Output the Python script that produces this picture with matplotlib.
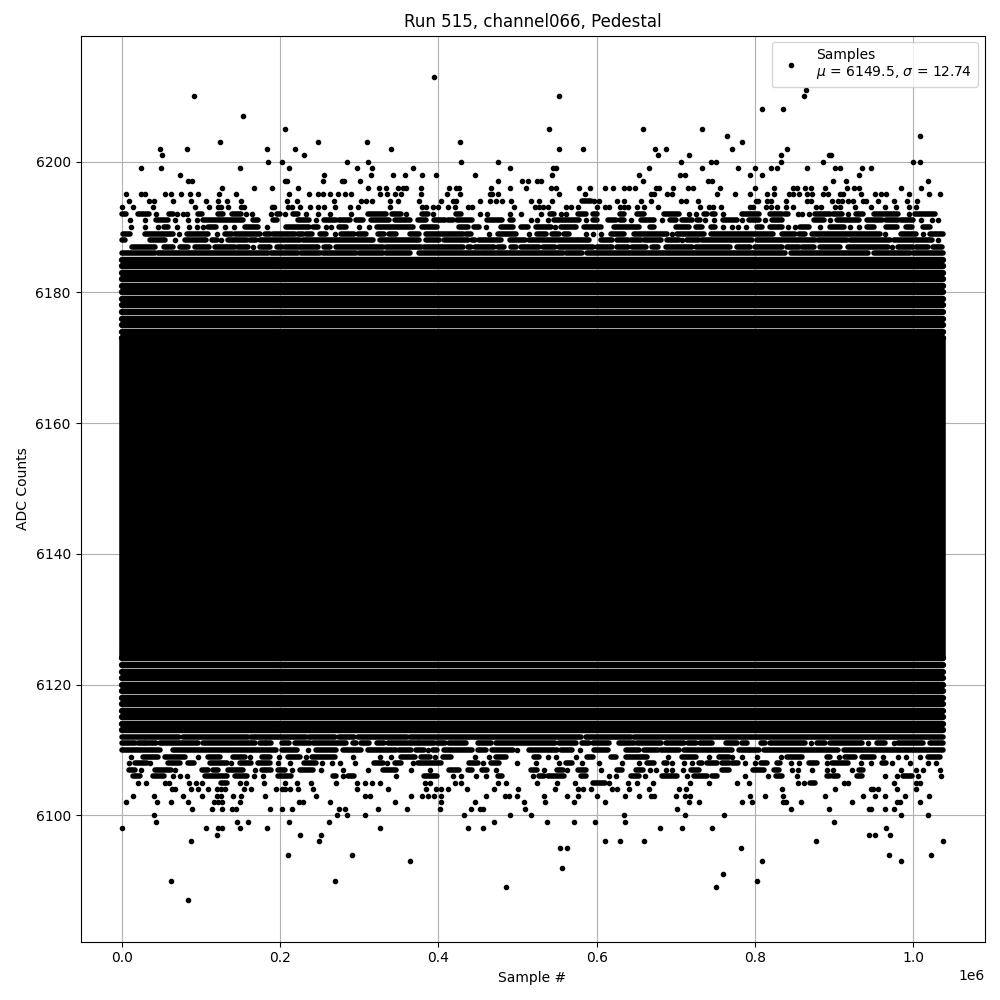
import numpy as np
import matplotlib
matplotlib.use('Agg')
import matplotlib.pyplot as plt

# Samples are in thousands. A number is one dot, a tuple is a run of samples
# on that ADC level that merge into one bar at this resolution.
lvl_6213 = [394]
lvl_6211 = [864]
lvl_6210 = [92, 553, 862]
lvl_6208 = [809, 835]
lvl_6207 = [153.5]
lvl_6205 = [206, 540, 658, 733]
lvl_6204 = [765, 1008]
lvl_6203 = [124.5, 248, 310, 428, 784]
lvl_6202 = [49, 82, 184, 219, 340, 552, 583, 674, 687, 771, 840]
lvl_6201 = [51, 230, 677, 717, 833, 893, 896]
lvl_6200 = [185, 203, 285, 311, 429, 476, 707, 745, 751, 833, 886, 1000, 1009]
lvl_6199 = [25, 50, 150, 211, 297, 316, 368, 491, 545, 549, 666, 733, 779, 800, 820, 828, 866, 901, 907, 935, 946]
lvl_6198 = [74, 256, 315, 342.5, 358, 379, 397, 446, 544, 654, 705, 712, 794, 809, 932]
lvl_6197 = [84, 89, 206, 209, 254, 278, 281, 301, 476, 506, 513, 525, 530, 658, 741, 746, 898, 915, 1018]
lvl_6196 = [127, 167, 190, 223, 311, 325, 334, 349, 355, 359, 378, 413, 423, 426, 467, 491, 511,
            542, 549, 578, 591, 610, 621, 635, 641, 649, 675, 679, 697, 716, 722, 756, 800, 824,
            848, 853, 863, 871, 888, 916, 925, 931, 984, 1010]
lvl_6195 = [6, 25, 30, 55, 62, 75, 87, 96, 123, 145, 211, 237, 248, 254, 263, 273, 282, 290, 327, 335,
            345, 353, 378, 411, 428, 465, 468, 476, 552, 585, 669, 673, 689, 695, 752, 775, 794, 815,
            824, 843, 848, 855, 866, 872, 886, 892, 907, 911, 934, 951, 959, 966, 994, 1020, 1034]
lvl_6194 = [9, 35, 41, 65, 88, 107, 122, 133, 151, 209, 222, 268, 302, 309, 316, 339, 349, 376, 403,
            418, 423, 453, 465, 473, 481, 492, 517, 527, 544, (582, 593), 597, 603, 626, 635, 656,
            669, 707, 713, 728, 801, 804, 815, 820, 839, 866, 871, 897, 905, 910, 917, 924, 936,
            940, 956, 975, 992, 1005]
lvl_6193 = [1, 14, 40, 93, 111, 122, 125, 135, 151, 154, 190, 193, 210, 215, 225, 238, 248, 256, 269,
            288, 298, 339, 379, 385, 393, 400, 412, 421, 438, 442, 496, 522, 527, 532, 538, 561, 567,
            576, 601, 610, 615, 629, 635, 640, 651, 660, 678, 731, 742, 747, 757, 794, 798, 814, 820,
            828, 839, 848, 877, 883, 901, 908, 926, 946, 964, 978, 994, 1003]
lvl_6192 = [(0, 5), (21, 34), 44, (60, 65), 70, 77, 83, (96, 101), (122, 128), (140, 151), 157, 165, 189,
            (196, 200), 207, (217, 223), 233, 248, 263, 290, (311, 334), (342, 353), 359, (380, 387), 393,
            (423, 429), 453, 461, 490, 504, 530, (541, 546), 555, 561, (577, 586), (595, 601), (630, 635),
            (651, 660), (685, 704), 717, 725, (735, 740), (746, 750), 760, (784, 805), (819, 834), (838, 842),
            854, 860, 868, (876, 895), (899, 910), 917, (928, 937), (950, 981), 994, (1002, 1027)]
lvl_6191 = [11, 30, (44, 59), 68, 84, 95, (103, 153), (166, 172), (191, 196), (223, 237), 246, (256, 271),
            (275, 288), (296, 305), (315, 338), (345, 364), (374, 385), (395, 408), (412, 418), (424, 443),
            (462, 481), (490, 494), 517, 525, 538, (546, 578), 586, (595, 601), (614, 624), (630, 635), 643,
            (656, 672), 683, (693, 700), (708, 721), (727, 731), 737, 748, (760, 777), 784, (792, 805), 813,
            (821, 834), (874, 887), 895, (903, 931), (941, 960), (966, 981), (985, 1000), 1010, 1023, 1031]
lvl_6190 = [12, 30, 46, (53, 59), 70, 85, 95, 103, (109, 119), 130, 142, (156, 172), 184, (208, 237),
            (242, 248), 258, 265, (275, 284), 300, 312, (322, 368), (380, 399), (426, 437), (445, 452), 460,
            (479, 494), (504, 513), (523, 542), 548, (555, 574), (584, 605), (622, 653), (668, 672), (700, 717),
            (725, 733), (744, 750), 760, 771, 779, 789, (803, 809), (819, 834), 842, 851, (857, 868), 882,
            (895, 912), 920, 931, (941, 950), (966, 979), (991, 998), (1012, 1021)]
lvl_6189 = [(2, 11), (30, 65), 72, (82, 109), 120, (130, 139), (143, 175), (181, 187), (191, 219), (223, 229),
            (233, 240), (250, 258), 269, (277, 294), (298, 309), (324, 332), (338, 347), (364, 376), (385, 431),
            (435, 441), 464, (475, 498), 515, (525, 536), (544, 553), (559, 565), 587, 595, 605, (618, 635),
            (647, 689), 695, (702, 735), (744, 823), (834, 851), (855, 863), (872, 958), 964, (985, 1004), 1012,
            (1021, 1038)]
lvl_6188 = [(0, 4), (36, 55), 67, (80, 107), (114, 120), 126, (135, 158), (162, 170), (175, 225), (229, 317),
            (326, 376), (385, 401), (407, 437), (443, 447), (452, 479), (490, 510), (515, 590), (605, 620),
            (626, 639), (643, 656), (660, 681), (689, 704), 708, (714, 729), (733, 796), (803, 876), (880, 916),
            (920, 971), (975, 1023), 1031]
lvl_6187 = [(13, 42), (53, 65), (74, 84), (93, 111), (118, 143), (147, 160), 166, (175, 187), (196, 202),
            (206, 248), (256, 263), (271, 330), (334, 378), (382, 431), (437, 441), (447, 471), (475, 483),
            (492, 498), (504, 515), (517, 527), (532, 548), (553, 595), (601, 620), (626, 639), (645, 662),
            (670, 677), (687, 721), (725, 769), (777, 794), (800, 834), (840, 855), (859, 874), (882, 907),
            (918, 968), 973, (981, 1000), (1004, 1019), (1025, 1036)]
lvl_6186 = [(0, 42), (46, 185), (189, 223), (227, 250), (254, 296), (300, 330), (334, 364), (376, 452),
            (454, 557), (561, 582), (588, 838), (845, 943), (950, 996), (1000, 1038)]

lvl_6112 = [(0, 72), (77, 160), (164, 233), (237, 269), (275, 294), (298, 361), (364, 580), (586, 643),
            (647, 1038)]
lvl_6111 = [(0, 17), (21, 28), (30, 44), (49, 97), (103, 145), (147, 168), (175, 181), (183, 189), (202, 212),
            (219, 238), (242, 284), (292, 296), (303, 313), (322, 332), (336, 374), (376, 395), (399, 408),
            (414, 435), (450, 466), (473, 548), (553, 574), (582, 590), (595, 616), (628, 647), (651, 681),
            (687, 710), (716, 725), (731, 746), (763, 777), (784, 790), (807, 813), (819, 863), 871, (878, 889),
            (895, 935), 943, (954, 964), 975, (981, 1012), (1021, 1038)]
lvl_6110 = [(0, 48), (65, 195), (202, 221), 235, (246, 271), (280, 303), (311, 347), (351, 366), (372, 382), 387,
            (393, 399), (407, 443), (450, 460), (468, 494), 500, (515, 550), (555, 569), 579, (597, 614),
            (637, 653), (660, 677), (681, 704), (710, 771), (780, 792), (794, 805), (811, 905), (912, 1038)]
lvl_6109 = [12, (27, 46), (55, 80), 96, (109, 124), (141, 156), 162, (177, 187), 199, (210, 225), 233, (240, 269),
            292, 327, 340, (353, 370), (378, 389), 396, (406, 416), 447, 464, (473, 485), (521, 527), 539, 549, 574,
            (588, 595), (618, 624), (637, 664), 690, (708, 725), 742, (754, 767), 771, 784, 803, 833, (840, 859),
            (891, 895), 906, (914, 926), (935, 950), 962, 981, 991, 1008, (1019, 1034)]
lvl_6108 = [9, (17, 32), 36, (59, 74), (84, 91), (112, 133), 138, (149, 164), (172, 187), 198, 213, (231, 246), 253,
            266, 276, 295, (319, 330), 335, (345, 353), 368, (374, 403), (439, 450), 457, (466, 477), 500, 524, 553,
            (561, 569), 582, 603, 632, 653, (664, 672), (685, 689), 695, 710, 721, (729, 733), (740, 752), (758, 767),
            (771, 779), 788, 800, (807, 815), (828, 832), 845, 855, (868, 878), 891, (897, 918), 934, 947, (960, 966),
            973, 996, 1019, 1029]
lvl_6107 = [(9, 17), 25, (42, 63), 67, (101, 109), (116, 122), (135, 153), 169, (177, 189), (198, 206), 215, (225, 242),
            252, 280, 311, (330, 347), 366, 389, (413, 426), (437, 443), (455, 462), 473, (517, 525), 534, (550, 557),
            563, (576, 586), 605, (626, 632), (650, 658), 668, 675, 688, 695, 709, (719, 729), (758, 767), (798, 811),
            (824, 830), 847, 854, 872, 891, 899, 922, (931, 937), 984, 1003, 1012, 1034]
lvl_6106 = [(15, 23), (40, 53), 65, 74, 83, (105, 133), (143, 158), 167, 179, (198, 214), (267, 271), 280, (286, 294),
            346, (382, 399), 418, 429, 448, 460, (475, 481), 519, (527, 534), (538, 559), (580, 586), 615, 625,
            (643, 653), 661, (683, 702), 714, (723, 740), (746, 752), 788, 817, (826, 834), 853, (891, 895), (899, 905),
            (929, 935), 964, 979, (987, 998), 1006, 1035]
lvl_6105 = [21, 31, 55, 60, 85, 94, 102, (125, 133), 150, 157, 180, 206, 222, 239, 271, 297, 308, 316, 327, 383, 390,
            421, 429, 476, 486, 525, 550, 573, (595, 610), 616, 640, 651, 671, 718, 742, 777, 792, 854, 862, (870, 876),
            912, 918, 976, 1004, 1008]
lvl_6104 = [64, 67, 88, 96, 109, 120, 125, 130, 155, 164, 195, 203, 206, 213, 223, 242, 297, 337, 385, 397, 404, 412, 436,
            470, 501, 548, 576, 583, 593, 620, 626, 641, 666, 704, 713, 834, 901, 946, 949, 956, 979, 1003]
lvl_6103 = [15, 41, 78, 102, 120, 125, 141, 151, 181, 246, 308, 314, 366, 380, 387, 395, 403, 460, 484, 489, 499, 533, 563,
            577, 600, 636, 654, 669, 673, 700, 712, 718, 794, 813, 836, 888, 936, 952, 964, 989, 1020]
lvl_6102 = [5, 45, 62, 84, 117, 122, 127, 150, 224, 229, 263, 345, 404, 446, 508, 535, 572, 610, 717, 729, 784, 796, 836,
            839, 858, 923, 979, 983, 1008]
lvl_6101 = [89, 114, 127, 140, 145, 187, 203, 215, 274, 282, 324, 360, 402, 441, 453, 457, 509, 702, 845, 893, 944, 947,
            964, 975]
lvl_6100 = [41, 272, 285, 307, 433, 491, 517, 634, 711, 761, 984, 1019]
lvl_6099 = [43, 146, 160, 211, 262, 471, 537, 571, 598, 636, 900]
lvl_6098 = [1, 107, 122, 127, 150, 184, 327, 438, 457, 680, 708, 746, 965]
lvl_6097 = [121, 225, 252, 944, 951, 971]
lvl_6096 = [88, 249, 610, 629, 660, 877, 1037]
lvl_6095 = [554, 563, 782]
lvl_6094 = [210, 291, 969, 1022]
lvl_6093 = [364, 809, 985]
lvl_6092 = [556]
lvl_6091 = [760]
lvl_6090 = [63, 269, 803]
lvl_6089 = [486, 751]
lvl_6087 = [84]

levels = [6213, 6211, 6210, 6208, 6207, 6205, 6204, 6203, 6202, 6201, 6200, 6199, 6198, 6197, 6196, 6195, 6194,
          6193, 6192, 6191, 6190, 6189, 6188, 6187, 6186, 6112, 6111, 6110, 6109, 6108, 6107, 6106, 6105, 6104,
          6103, 6102, 6101, 6100, 6099, 6098, 6097, 6096, 6095, 6094, 6093, 6092, 6091, 6090, 6089, 6087]
rows = [lvl_6213, lvl_6211, lvl_6210, lvl_6208, lvl_6207, lvl_6205, lvl_6204, lvl_6203, lvl_6202, lvl_6201,
        lvl_6200, lvl_6199, lvl_6198, lvl_6197, lvl_6196, lvl_6195, lvl_6194, lvl_6193, lvl_6192, lvl_6191,
        lvl_6190, lvl_6189, lvl_6188, lvl_6187, lvl_6186, lvl_6112, lvl_6111, lvl_6110, lvl_6109, lvl_6108,
        lvl_6107, lvl_6106, lvl_6105, lvl_6104, lvl_6103, lvl_6102, lvl_6101, lvl_6100, lvl_6099, lvl_6098,
        lvl_6097, lvl_6096, lvl_6095, lvl_6094, lvl_6093, lvl_6092, lvl_6091, lvl_6090, lvl_6089, lvl_6087]

# levels hit so often the whole sample range is covered
outer_levels = [6113, 6114, 6115, 6116, 6117, 6118, 6119, 6120, 6121, 6122, 6123, 6124,
                6173, 6174, 6175, 6176, 6177, 6178, 6179, 6180, 6181, 6182, 6183, 6184, 6185]
core_first, core_last = 6124, 6173
first_sample, last_sample = 0, 1038

mean_adc = 6149.5
std_adc = 12.74


dot_x, dot_y, run_y, run_start, run_end = [], [], [], [], []
for level, row in zip(levels, rows):
    for item in row:
        if isinstance(item, tuple):
            run_y.append(level)
            run_start.append(item[0] * 1e3)
            run_end.append(item[1] * 1e3)
        else:
            dot_x.append(item * 1e3)
            dot_y.append(level)

plt.figure(figsize=(10, 10))
ax = plt.gca()
ax.plot(dot_x, dot_y, '.', color='black',
        label=f'Samples\n$\\mu$ = {mean_adc}, $\\sigma$ = {std_adc}')
ax.hlines(run_y, run_start, run_end, color='black', lw=4, capstyle='round', zorder=2)
ax.hlines(outer_levels, first_sample * 1e3, last_sample * 1e3, color='black', lw=4.6, capstyle='round', zorder=2)
ax.fill_between([first_sample * 1e3, last_sample * 1e3], core_first, core_last, color='black', lw=4, zorder=2)
ax.set_title('Run 515, channel066, Pedestal')
ax.set_xlabel('Sample #')
ax.set_ylabel('ADC Counts')
ax.grid(True)
ax.legend(loc='upper right')
plt.subplots_adjust(left=0.0805, right=0.9845, top=0.9645, bottom=0.0585)
plt.savefig('out.png', dpi=100)
